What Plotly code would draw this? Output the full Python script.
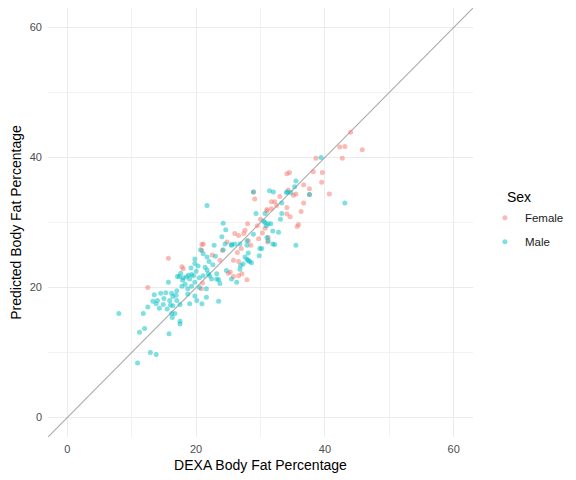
import plotly.graph_objects as go

# Female points: DEXA vs predicted body fat (%)
female_dexa = [12.5, 20.8, 21.0, 29.1, 28.9, 31.0, 28.0, 26.0, 26.6, 27.4,
               21.1, 24.1, 26.4, 26.6, 15.7, 17.8, 18.0, 23.7, 25.3, 25.8,
               27.1, 33.0, 35.1, 37.6, 40.7, 31.7, 32.2, 36.7, 31.0, 32.5,
               34.1, 34.1, 34.6, 36.3, 31.7, 35.9, 35.7, 30.3, 31.2, 31.1,
               29.7, 44.0, 42.3, 43.1, 45.8, 42.7, 38.6, 38.2, 39.6, 39.5,
               36.7, 37.6, 34.1, 34.5, 34.3, 25.8, 26.6, 20.9, 20.9, 27.9,
               27.6, 28.1, 35.5, 22.5, 24.8, 28.5, 29.5, 27.0, 30.0, 30.7,
               25.0]
female_pred = [20.0, 19.8, 20.7, 33.6, 34.7, 31.8, 29.8, 28.3, 28.0, 28.3,
               26.7, 25.7, 25.4, 24.0, 24.5, 23.2, 22.9, 24.2, 22.4, 24.2,
               22.1, 34.0, 34.2, 34.3, 34.4, 33.2, 33.2, 33.0, 32.0, 32.6,
               32.3, 31.3, 30.9, 31.7, 32.1, 29.7, 29.4, 28.4, 27.7, 27.0,
               27.5, 43.9, 41.6, 41.7, 41.2, 39.9, 39.9, 37.8, 37.7, 36.2,
               35.8, 35.2, 37.5, 37.7, 35.0, 21.7, 21.8, 26.6, 25.7, 21.2,
               28.8, 27.2, 34.4, 25.0, 27.0, 26.5, 29.5, 26.0, 30.5, 29.1,
               22.2]

# Male points
male_dexa = [8.0, 10.9, 12.9, 13.8, 11.2, 12.0, 11.8, 12.5, 15.8, 17.5,
             17.5, 13.5, 14.5, 15.3, 15.7, 13.3, 13.8, 14.3, 14.9, 15.5,
             15.9, 16.0, 16.4, 16.2, 16.3, 16.7, 16.2, 16.4, 16.9, 17.0,
             17.5, 17.1, 17.4, 17.9, 17.8, 18.8, 19.6, 19.8, 18.7, 18.7,
             19.0, 19.8, 20.1, 20.9, 21.6, 21.6, 21.1, 22.1, 23.2, 23.5,
             21.7, 28.9, 29.3, 30.7, 31.2, 24.2, 24.6, 24.0, 22.8, 20.7,
             25.5, 26.0, 26.8, 27.9, 27.9, 28.9, 31.0, 31.2, 29.9, 28.1,
             21.7, 21.1, 19.8, 19.8, 17.6, 18.0, 18.5, 19.0, 19.3, 21.4,
             21.7, 21.9, 22.4, 23.5, 23.7, 24.7, 25.5, 26.3, 26.8, 26.9,
             27.9, 28.3, 27.3, 32.0, 34.2, 43.1, 33.3, 33.3, 33.1, 30.7,
             30.5, 30.9, 31.6, 31.9, 32.8, 31.9, 32.2, 35.5, 30.2, 27.6,
             28.1, 28.6, 29.8, 39.4, 37.6, 31.4, 34.0, 34.7, 35.5, 35.3,
             24.2, 24.5, 25.5, 19.2, 20.0, 20.5, 20.3, 22.0, 22.6, 23.0,
             18.3, 19.3, 20.5, 17.0, 15.0, 14.0, 23.2]
male_pred = [16.0, 8.4, 10.0, 9.7, 13.1, 13.7, 16.0, 17.0, 12.9, 14.8,
             14.4, 18.9, 19.1, 19.2, 20.8, 17.9, 17.5, 16.8, 17.4, 16.7,
             18.0, 17.3, 17.2, 16.0, 15.4, 16.0, 19.1, 18.6, 18.8, 18.0,
             17.4, 21.7, 21.7, 21.1, 20.2, 21.9, 21.8, 20.8, 19.8, 19.0,
             17.5, 18.7, 18.0, 17.5, 18.5, 19.8, 21.8, 21.8, 21.3, 17.9,
             32.6, 34.7, 31.4, 30.0, 29.8, 29.9, 28.9, 27.8, 26.5, 25.8,
             26.6, 26.7, 26.7, 27.2, 26.5, 28.2, 27.7, 27.2, 26.0, 25.3,
             24.7, 25.2, 24.4, 23.7, 22.2, 21.5, 21.6, 21.3, 22.0, 23.1,
             22.7, 22.1, 21.3, 21.2, 20.6, 22.6, 21.3, 20.8, 22.8, 23.4,
             24.3, 24.0, 23.6, 34.7, 34.7, 33.0, 33.0, 31.4, 30.5, 31.4,
             30.2, 29.5, 29.8, 28.7, 28.5, 26.7, 26.6, 26.5, 26.0, 24.7,
             24.2, 23.8, 24.9, 40.0, 34.3, 34.9, 34.6, 34.6, 36.4, 35.5,
             25.8, 26.7, 26.5, 23.0, 22.5, 21.5, 23.3, 24.0, 23.5, 24.8,
             20.5, 20.2, 20.0, 19.5, 18.3, 18.0, 22.1]

axis_min, axis_max = -3, 63
ticks = [0, 20, 40, 60]
minor_ticks = [10, 30, 50]

fig = go.Figure()

# identity line y = x across the panel
fig.add_trace(go.Scatter(
    x=[axis_min, axis_max], y=[axis_min, axis_max], mode="lines",
    line=dict(color="#AAAAAA", width=1.1), showlegend=False, hoverinfo="skip"))

fig.add_trace(go.Scatter(
    x=female_dexa, y=female_pred, mode="markers", name="Female", legendgroup="f",
    marker=dict(color="#F8766D", size=5, opacity=0.5, line=dict(width=0))))
fig.add_trace(go.Scatter(
    x=male_dexa, y=male_pred, mode="markers", name="Male", legendgroup="m",
    marker=dict(color="#00BFC4", size=5, opacity=0.5, line=dict(width=0))))

axis_style = dict(
    range=[axis_min, axis_max], tickvals=ticks, showline=False, zeroline=False,
    gridcolor="#EBEBEB", gridwidth=1.1, ticks="", automargin=False,
    tickfont=dict(size=11, color="#4D4D4D"),
    minor=dict(tickvals=minor_ticks, showgrid=True, gridcolor="#F2F2F2", gridwidth=0.6),
)

# page body adds an 8px offset, so the figure is sized a bit smaller
fig.update_layout(
    width=568, height=472,
    margin=dict(l=40, r=103, t=0, b=43),
    plot_bgcolor="white", paper_bgcolor="white",
    font=dict(family="Liberation Sans, Arial, sans-serif", color="black"),
    xaxis=dict(axis_style, title=dict(text="DEXA Body Fat Percentage",
                                      font=dict(size=14), standoff=6),
               ticklabelstandoff=4),
    yaxis=dict(axis_style, title=dict(text="Predicted Body Fat Percentage",
                                      font=dict(size=14), standoff=7),
               ticklabelstandoff=5),
    legend=dict(font=dict(size=11.5, color="#1A1A1A"),
                x=1.028, xanchor="left", y=0.545, yanchor="top",
                bgcolor="rgba(0,0,0,0)", tracegroupgap=5),
    annotations=[dict(text="Sex", xref="paper", yref="paper",
                      x=1.075, y=0.535, xanchor="left", yanchor="bottom",
                      showarrow=False, font=dict(size=14))],
)

fig.write_html("out.html")
